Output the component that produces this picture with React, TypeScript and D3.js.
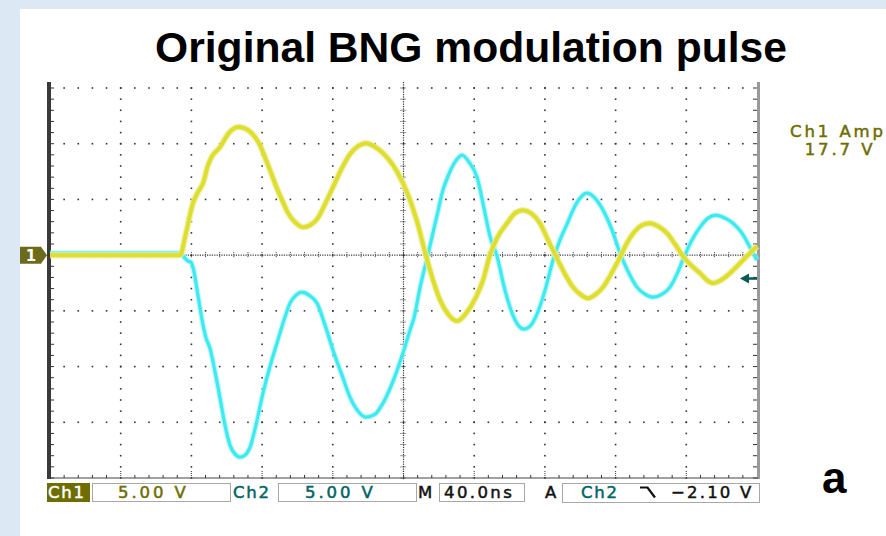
import React from "react";
import * as d3 from "d3";

// Time (ns) and voltage (V) readings for Ch1 (yellow) and Ch2 (cyan)
const ch1Time = [0, 73.6, 76.9, 80.9, 83.7, 86.6, 89.4, 91.7, 96.2, 100.7, 103.5, 106.4, 109.8, 113.2, 116.0, 118.8, 121.6, 124.5, 127.9, 131.3, 134.7, 138.6, 143.1, 147.1, 151.1, 155.6, 160.1, 164.6, 169.7, 174.3, 178.8, 183.3, 188.4, 194.1, 199.7, 203.7, 207.6, 212.2, 216.7, 220.7, 225.2, 230.3, 235.4, 241.0, 245.0, 248.9, 252.9, 258.6, 263.1, 267.6, 272.1, 277.2, 281.8, 286.8, 291.4, 295.9, 299.9, 304.4, 308.9, 312.9, 318.0, 322.5, 326.4, 330.4, 334.9, 339.5, 344.0, 349.1, 353.6, 358.1, 363.2, 367.8, 371.7, 375.1, 379.6, 384.7, 389.3, 394.3, 400];
const ch1Volt = [0, 0, 1.97, 4.67, 5.65, 6.46, 8.08, 8.88, 9.69, 10.86, 11.31, 11.49, 11.40, 11.08, 10.59, 9.87, 8.79, 7.63, 6.19, 4.94, 3.77, 2.96, 2.51, 2.69, 3.23, 4.58, 6.10, 7.63, 9.06, 9.78, 10.05, 9.78, 9.15, 8.08, 6.46, 4.94, 3.05, 0.27, -2.24, -4.04, -5.29, -5.92, -5.21, -3.77, -2.24, 0, 1.53, 2.87, 3.77, 4.04, 3.77, 2.87, 1.35, -0.27, -1.71, -2.87, -3.50, -3.86, -3.50, -2.87, -1.53, -0.18, 1.08, 2.06, 2.69, 2.87, 2.60, 1.97, 0.99, -0.09, -0.99, -1.62, -2.24, -2.51, -2.24, -1.62, -0.90, -0.09, 0.81];

const ch2Time = [0, 73.6, 75.8, 78.1, 79.8, 81.5, 83.7, 86.6, 88.3, 90.5, 93.4, 96.2, 99.0, 101.8, 104.7, 107.5, 110.3, 113.2, 116.5, 120.5, 124.5, 128.4, 132.4, 135.8, 139.2, 142.6, 146.5, 151.1, 155.6, 160.1, 165.2, 169.7, 174.3, 178.8, 183.9, 188.4, 194.1, 199.7, 203.7, 205.9, 209.3, 213.9, 219.0, 222.3, 225.2, 229.1, 233.1, 237.1, 241.6, 246.1, 248.9, 252.9, 257.4, 261.9, 265.3, 268.2, 271.6, 275.5, 280.1, 284.6, 288.5, 292.5, 295.9, 299.9, 303.8, 308.3, 312.9, 318.0, 322.5, 327.0, 332.1, 336.6, 341.2, 346.3, 350.8, 354.7, 358.7, 363.2, 367.8, 372.3, 376.8, 381.9, 386.4, 391.5, 396.0, 400];
const ch2Volt = [0.18, 0.18, -0.18, -0.54, -0.63, -1.53, -3.59, -6.28, -7.45, -8.35, -10.50, -12.83, -15.26, -17.05, -17.86, -18.13, -17.95, -17.23, -15.26, -12.38, -9.96, -7.90, -5.83, -4.31, -3.59, -3.32, -3.59, -4.31, -6.28, -8.53, -10.77, -12.74, -14.00, -14.54, -14.27, -13.28, -11.31, -8.79, -6.73, -5.65, -2.96, 0.09, 3.59, 5.83, 7.09, 8.35, 8.97, 8.35, 7.00, 3.77, 1.71, -0.09, -3.14, -5.38, -6.37, -6.64, -6.37, -5.29, -3.14, -0.45, 1.35, 2.78, 4.04, 5.12, 5.56, 5.12, 4.04, 2.24, 0.18, -1.44, -2.87, -3.50, -3.77, -3.50, -2.87, -1.71, -0.18, 1.35, 2.51, 3.32, 3.59, 3.32, 2.87, 1.97, 0.72, -0.45];

const timeDomain = [0, 400];
const voltDomain = [-20, 15];
const triggerLevel = -2.1;
const titleText = "Original BNG modulation pulse";
const statusCh1 = "5.00 V";
const statusCh2 = "5.00 V";
const statusTime = "40.0ns";
const statusTrig = "\u22122.10 V";
const ampLabel = ["Ch1 Amp", "17.7 V"];
const panelLabel = "a";

const OLIVE = "#6e6e00";
const TEAL = "#006464";
const YELLOW = "#dede2e";
const CYAN = "#3deaf0";

export default function App() {
  const x = d3.scaleLinear().domain(timeDomain).range([50, 757]);
  const y = d3.scaleLinear().domain(voltDomain).range([478, 88]);

  const line = d3
    .line<[number, number]>()
    .x((d) => x(d[0]))
    .y((d) => y(d[1]))
    .curve(d3.curveMonotoneX);

  const ch1 = ch1Time.map((t, i) => [t, ch1Volt[i]] as [number, number]);
  const ch2 = ch2Time.map((t, i) => [t, ch2Volt[i]] as [number, number]);

  const dots: JSX.Element[] = [];
  for (let i = 1; i <= 9; i++) {
    if (i === 5) continue;
    const gx = x(i * 40);
    for (let v = -20; v <= 15; v += 1) {
      dots.push(<rect key={`v${i}_${v}`} x={gx - 0.8} y={y(v) - 0.8} width={1.6} height={1.6} fill="#333" />);
    }
  }
  [15, 10, 5, -5, -10, -15].forEach((v) => {
    for (let t = 8; t < 400; t += 8) {
      dots.push(<rect key={`h${v}_${t}`} x={x(t) - 0.8} y={y(v) - 0.8} width={1.6} height={1.6} fill="#333" />);
    }
  });
  const cx = x(200);
  const cy = y(0);
  for (let py = 82; py < 478; py += 2.4) {
    dots.push(<rect key={`cv${py}`} x={cx - 0.6} y={py} width={1.2} height={1.2} fill="#333" />);
  }
  for (let px = 51; px < 757; px += 2.4) {
    dots.push(<rect key={`ch${px}`} x={px} y={cy - 0.6} width={1.2} height={1.2} fill="#333" />);
  }
  for (let v = -20; v <= 15; v += 1) {
    dots.push(<line key={`ctv${v}`} x1={cx - 3} x2={cx + 3} y1={y(v)} y2={y(v)} stroke="#333" strokeWidth={1} strokeDasharray="1 1" />);
  }
  for (let t = 8; t < 400; t += 8) {
    dots.push(<line key={`cth${t}`} x1={x(t)} x2={x(t)} y1={cy - 3} y2={cy + 3} stroke="#333" strokeWidth={1} strokeDasharray="1 1" />);
  }
  const rulers: JSX.Element[] = [];
  for (let v = -20; v <= 15; v += 1) {
    rulers.push(<line key={`lr${v}`} x1={51} x2={54} y1={y(v)} y2={y(v)} stroke="#333" strokeWidth={1} />);
    rulers.push(<line key={`rr${v}`} x1={753} x2={757} y1={y(v)} y2={y(v)} stroke="#333" strokeWidth={1} />);
  }
  for (let t = 8; t < 400; t += 8) {
    const major = t % 40 === 0;
    rulers.push(<line key={`br${t}`} x1={x(t)} x2={x(t)} y1={478} y2={major ? 471 : 475} stroke="#333" strokeWidth={1} strokeDasharray={major ? "1 1" : undefined} />);
  }

  const ty = y(triggerLevel);
  const statusFont = { fontFamily: "DejaVu Sans", fontWeight: 400, fontSize: 16.5, letterSpacing: 2.9, strokeWidth: 0.5 } as const;

  return (
    <svg width={886} height={536} style={{ position: "absolute", left: 0, top: 0, display: "block" }}>
      <rect x={0} y={0} width={886} height={536} fill="#dce8f4" />
      <rect x={20} y={9} width={866} height={527} fill="#ffffff" />
      <text x={471} y={62} textAnchor="middle" fontFamily="Liberation Sans, Arial, sans-serif" fontWeight={700} fontSize={42.6} fill="#000">
        {titleText}
      </text>

      {dots}
      {rulers}
      <rect x={47} y={82} width={4} height={397} fill="#3a3a3a" />
      <rect x={757} y={82} width={3} height={397} fill="#9a9a9a" />
      <line x1={50} x2={758} y1={478} y2={478} stroke="#444" strokeWidth={1.2} />

      <path d={line(ch2) || ""} fill="none" stroke="#9ff4f6" strokeWidth={5.5} strokeLinejoin="round" opacity={0.7} />
      <path d={line(ch2) || ""} fill="none" stroke={CYAN} strokeWidth={3.2} strokeLinejoin="round" />
      <path d={line(ch1) || ""} fill="none" stroke="#ecec98" strokeWidth={6.5} strokeLinejoin="round" opacity={0.8} />
      <path d={line(ch1) || ""} fill="none" stroke={YELLOW} strokeWidth={4} strokeLinejoin="round" />

      <path d={`M20,${cy - 8.5} L41,${cy - 8.5} L47,${cy} L41,${cy + 8.5} L20,${cy + 8.5} Z`} fill="#6b6b1b" />
      <text x={31} y={cy + 5.5} textAnchor="middle" fontFamily="DejaVu Sans" fontWeight={700} fontSize={15} fill="#fff">1</text>

      <path d={`M740,${ty} L749,${ty - 5} L749,${ty + 5} Z`} fill="#0a5a5a" />
      <line x1={746} x2={757} y1={ty} y2={ty} stroke="#0a5a5a" strokeWidth={2.5} />

      <text x={838} y={137} textAnchor="middle" fill={OLIVE} stroke={OLIVE} {...statusFont}>{ampLabel[0]}</text>
      <text x={840} y={155} textAnchor="middle" fill={OLIVE} stroke={OLIVE} {...statusFont}>{ampLabel[1]}</text>

      <rect x={47} y={483} width={43} height={19} fill={OLIVE} />
      <text x={48} y={498} fill="#fff" stroke="#fff" {...statusFont} letterSpacing={1.8}>Ch1</text>
      <rect x={92.5} y={483.5} width={138} height={18} fill="#fff" stroke="#a8a8a8" strokeWidth={1} />
      <text x={118} y={498} fill={OLIVE} stroke={OLIVE} {...statusFont}>{statusCh1}</text>
      <text x={233} y={498} fill={TEAL} stroke={TEAL} {...statusFont} letterSpacing={1.8}>Ch2</text>
      <rect x={278.5} y={483.5} width={138} height={18} fill="#fff" stroke="#a8a8a8" strokeWidth={1} />
      <text x={305} y={498} fill={TEAL} stroke={TEAL} {...statusFont}>{statusCh2}</text>
      <text x={418} y={498} fill="#111" stroke="#111" {...statusFont}>M</text>
      <rect x={439.5} y={483.5} width={85} height={18} fill="#fff" stroke="#a8a8a8" strokeWidth={1} />
      <text x={444} y={498} fill="#111" stroke="#111" {...statusFont} letterSpacing={2.4}>{statusTime}</text>
      <text x={545} y={498} fill="#111" stroke="#111" {...statusFont}>A</text>
      <rect x={562.5} y={483.5} width={197} height={19} fill="#fff" stroke="#a8a8a8" strokeWidth={1} />
      <text x={581} y={498} fill={TEAL} stroke={TEAL} {...statusFont} letterSpacing={1.8}>Ch2</text>
      <path d="M640,487.5 H647.5 L655,497.5" fill="none" stroke="#111" strokeWidth={2.2} />
      <text x={671} y={498} fill="#111" stroke="#111" {...statusFont} letterSpacing={2.2}>{statusTrig}</text>

      <text x={822} y={493} fontFamily="Liberation Sans, Arial, sans-serif" fontWeight={700} fontSize={44} fill="#000">{panelLabel}</text>
    </svg>
  );
}
